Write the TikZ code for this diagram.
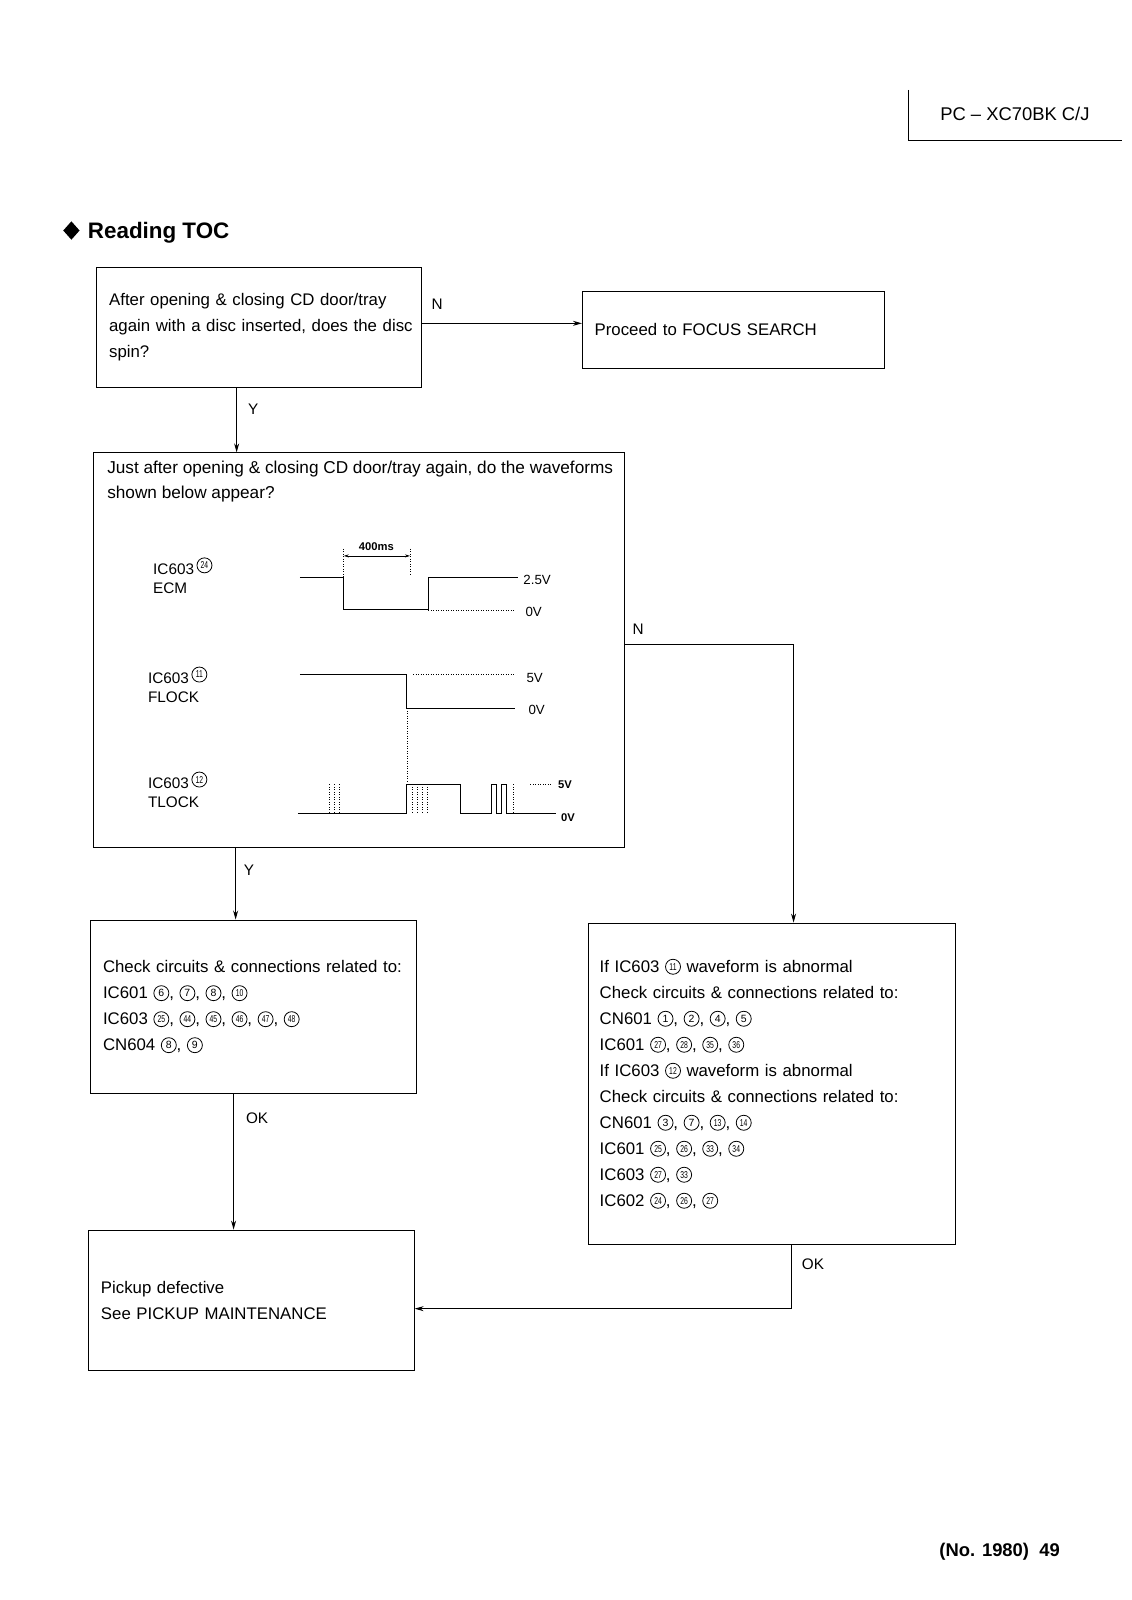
\documentclass[tikz,border=0pt]{standalone}
\usepackage{fontspec}
\setmainfont{Liberation Sans}
\usetikzlibrary{arrows.meta}
\newcommand{\cnin}[1]{\ifnum#1>9 \fontsize{10}{10}\selectfont\scalebox{0.68}[1]{#1}\else\fontsize{10.5}{10.5}\selectfont #1\fi}
\newcommand{\cn}[1]{\tikz[baseline=-5.4pt]\node[circle,draw,line width=0.8pt,inner sep=0pt,minimum size=15pt](cc){\cnin{#1}};}
\tikzset{
  box/.style={draw,line width=1pt,rectangle,align=left,inner ysep=0pt,font=\fontsize{16.8}{26}\selectfont},
  arr/.style={line width=1pt,-{Stealth[length=9pt,width=5pt]}},
  lab/.style={font=\fontsize{15.3}{15.3}\selectfont,anchor=base west,inner sep=0pt},
  wlab/.style={font=\fontsize{15.3}{19.4}\selectfont,anchor=base west,inner sep=0pt,align=left},
  vlab/.style={font=\fontsize{13.3}{13.3}\selectfont,anchor=west,inner sep=0pt},
  blab/.style={font=\bfseries\fontsize{11.2}{11.2}\selectfont,anchor=west,inner sep=0pt},
  wave/.style={line width=1pt},
  dots/.style={line width=0.7pt,dash pattern=on 1pt off 1.5pt},
}
\begin{document}
\begin{tikzpicture}[x=1.02pt,y=-1.02pt]
\useasboundingbox (0,0) rectangle (1108.82,1568.63);
% header
\draw[line width=0.8pt] (891,88) -- (891,138) -- (1100,138);
\node[font=\fontsize{18.4}{18.4}\selectfont,inner sep=0pt] (hdr) at (995,112) {PC -- XC70BK C/J};
% title
\fill (62,226) -- (70,217) -- (78,226) -- (70,235) -- cycle;
\node[font=\bfseries\fontsize{22.4}{22.4}\selectfont,anchor=base west,inner sep=0pt] (title) at (86,234) {Reading TOC};

% boxes
\node[box,text width=299.9pt,inner xsep=12.24pt,minimum height=120.4pt] (b1) at (254,321)
 {\mbox{After opening \& closing CD door/tray}\\\mbox{again with a disc inserted, does the disc}\\spin?};
\node[box,text width=277.4pt,inner xsep=12.24pt,minimum height=76.5pt] (b2) at (719,323.5)
 {\mbox{Proceed to FOCUS SEARCH}};
\node[box,minimum width=530.4pt,minimum height=394.7pt] (b3) at (352,637.5) {};
\node[font=\fontsize{17.2}{24.5}\selectfont,anchor=north west,inner sep=0pt,align=left] (b3t) at (105,452)
 {Just after opening \& closing CD door/tray again, do the waveforms\\shown below appear?};
\node[box,text width=300.9pt,inner xsep=12.24pt,minimum height=173.4pt] (b4) at (248.5,987)
 {\mbox{Check circuits \& connections related to:}\\
  \mbox{IC601 \cn{6}, \cn{7}, \cn{8}, \cn{10}}\\
  \mbox{IC603 \cn{25}, \cn{44}, \cn{45}, \cn{46}, \cn{47}, \cn{48}}\\
  \mbox{CN604 \cn{8}, \cn{9}}};
\node[box,text width=344.8pt,inner xsep=11.2pt,minimum height=321.3pt] (b5) at (757,1062.5)
 {\mbox{If IC603 \cn{11} waveform is abnormal}\\
  \mbox{Check circuits \& connections related to:}\\
  \mbox{CN601 \cn{1}, \cn{2}, \cn{4}, \cn{5}}\\
  \mbox{IC601 \cn{27}, \cn{28}, \cn{35}, \cn{36}}\\
  \mbox{If IC603 \cn{12} waveform is abnormal}\\
  \mbox{Check circuits \& connections related to:}\\
  \mbox{CN601 \cn{3}, \cn{7}, \cn{13}, \cn{14}}\\
  \mbox{IC601 \cn{25}, \cn{26}, \cn{33}, \cn{34}}\\
  \mbox{IC603 \cn{27}, \cn{33}}\\
  \mbox{IC602 \cn{24}, \cn{26}, \cn{27}}};
\node[box,text width=300.9pt,inner xsep=12.24pt,minimum height=140.8pt] (b6) at (246.5,1275)
 {Pickup defective\\\mbox{See PICKUP MAINTENANCE}};

% connectors
\draw[arr] (b1.east |- 0,317) -- (b2.west |- 0,317);
\node[lab] (n1) at (423,303) {N};
\draw[arr] (b1.south -| 232,0) -- (b3.north -| 232,0);
\node[lab] (y1) at (243,406) {Y};
\coordinate (c1) at (778,632);
\draw[arr] (b3.east |- c1) -- (c1) -- (b5.north -| c1);
\node[lab] (n2) at (620,622) {N};
\draw[arr] (b3.south -| 231,0) -- (b4.north -| 231,0);
\node[lab] (y2) at (239,858) {Y};
\draw[arr] (b4.south -| 229,0) -- (b6.north -| 229,0);
\node[lab] (ok1) at (241,1101) {OK};
\coordinate (c2) at (776,1283);
\draw[arr] (b5.south -| c2) -- (c2) -- (b6.east |- c2);
\node[lab] (ok2) at (786,1245) {OK};

% waveform labels (base = last line)
\node[wlab] (w1) at (150,582) {IC603\,\cn{24}\\ECM};
\node[wlab] (w2) at (145,689) {IC603\,\cn{11}\\FLOCK};
\node[wlab] (w3) at (145,792) {IC603\,\cn{12}\\TLOCK};

% ECM
\draw[wave] (294,566) -- (337,566) -- (337,598) -- (420,598) -- (420,566) -- (508,566);
\draw[dots] (420,598) -- (505,598);
\draw[dots] (337,538) -- (337,566);
\draw[dots] (402,538) -- (402,564);
\draw[line width=0.8pt,{Stealth[length=5pt,width=3pt]}-{Stealth[length=5pt,width=3pt]}] (337,545) -- (402,545);
\node[font=\bfseries\fontsize{11.2}{11.2}\selectfont,inner sep=0pt] (ms) at (369,536) {400ms};
\node[vlab] (v1) at (513,569) {2.5V};
\node[vlab] (v2) at (515,600) {0V};

% FLOCK
\draw[wave] (294,661) -- (399,661) -- (399,695) -- (505,695);
\draw[dots] (405,661) -- (505,661);
\draw[dots] (399,697) -- (399,767);
\node[vlab] (v3) at (516,665) {5V};
\node[vlab] (v4) at (518,696) {0V};

% TLOCK
\draw[wave] (292,798) -- (399,798) -- (399,769) -- (451,769) -- (451,798) -- (482,798) -- (482,769) -- (487,769) -- (487,798) -- (492,798) -- (492,769) -- (497,769) -- (497,798) -- (545,798);
\foreach \x in {323,328,333} \draw[dots] (\x,769) -- (\x,798);
\foreach \x in {404,409,414,419} \draw[dots] (\x,769) -- (\x,798);
\draw[dots] (503,769) -- (503,798);
\draw[dots] (520,769) -- (540,769);
\node[blab] (v5) at (547,769) {5V};
\node[blab] (v6) at (550,802) {0V};

% page number
\node[font=\bfseries\fontsize{18.4}{18.4}\selectfont,inner sep=0pt] (pg) at (980,1521) {(No. 1980)\ \ 49};
\end{tikzpicture}
\end{document}
